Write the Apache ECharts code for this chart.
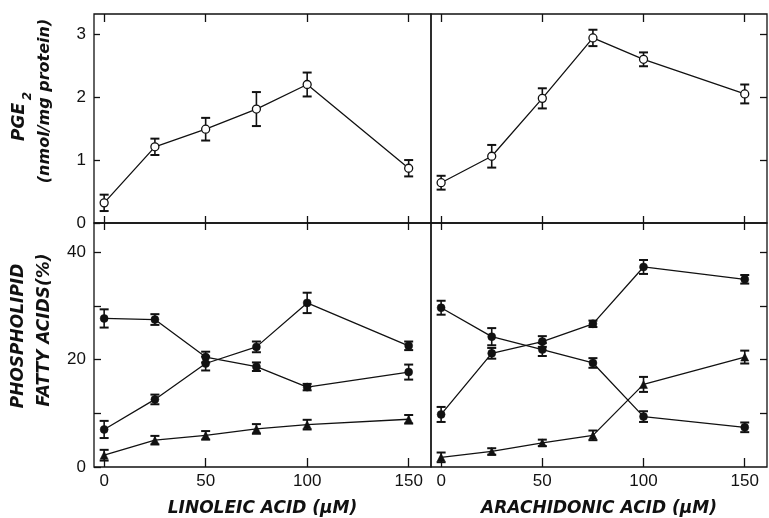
<!DOCTYPE html>
<html>
<head>
<meta charset="utf-8">
<script src="https://cdn.jsdelivr.net/npm/echarts@6/dist/echarts.min.js"></script>
<style>
  html, body { margin: 0; padding: 0; background: #fff; }
  #chart { width: 769px; height: 518px; }
</style>
</head>
<body>
<div id="chart"></div>
<script>
// Fatty acid concentration in the medium (µM)
const doses = [0, 25, 50, 75, 100, 150];
const xTickValues = [0, 50, 100, 150];
const pgeTickValues = [0, 1, 2, 3];
const fattyTickValues = [0, 10, 20, 30, 40];
const fattyLabelValues = [0, 20, 40];

// PGE2 production (nmol/mg protein), mean and error
const pgeLinoleic = [0.32, 1.21, 1.49, 1.81, 2.20, 0.87];
const pgeLinoleicErr = [0.13, 0.13, 0.18, 0.27, 0.19, 0.13];
const pgeArachidonic = [0.64, 1.06, 1.98, 2.94, 2.60, 2.05];
const pgeArachidonicErr = [0.11, 0.18, 0.16, 0.13, 0.11, 0.15];

// Phospholipid fatty acids (%) after linoleic acid supplementation
const linFallingPct = [27.7, 27.5, 20.5, 18.7, 14.9, 17.7];
const linFallingErr = [1.7, 1.0, 1.0, 0.8, 0.6, 1.4];
const linRisingPct = [7.0, 12.6, 19.3, 22.4, 30.6, 22.6];
const linRisingErr = [1.6, 0.9, 1.3, 1.0, 1.9, 0.8];
const linMinorPct = [2.2, 5.0, 5.9, 7.1, 7.9, 8.9];
const linMinorErr = [1.0, 0.8, 0.8, 0.9, 0.9, 0.8];

// Phospholipid fatty acids (%) after arachidonic acid supplementation
const araFallingPct = [29.7, 24.3, 21.9, 19.4, 9.4, 7.4];
const araFallingErr = [1.3, 1.6, 1.2, 0.9, 1.0, 0.9];
const araRisingPct = [9.8, 21.2, 23.4, 26.7, 37.3, 35.0];
const araRisingErr = [1.4, 1.0, 1.0, 0.6, 1.3, 0.8];
const araMinorPct = [1.8, 2.9, 4.5, 5.9, 15.4, 20.5];
const araMinorErr = [0.9, 0.6, 0.6, 0.9, 1.4, 1.2];

const INK = '#111';
const NUM_FONT = '"Liberation Sans", Arial, sans-serif';
const TITLE_FONT = '"DejaVu Sans", sans-serif';

const chart = echarts.init(document.getElementById('chart'), null, { renderer: 'canvas' });

const grids = [
  { left: 94, top: 14, width: 337, height: 209 },
  { left: 431, top: 14, width: 336, height: 209 },
  { left: 94, top: 223, width: 337, height: 244 },
  { left: 431, top: 223, width: 336, height: 244 }
].map(g => Object.assign({ show: true, borderColor: INK, borderWidth: 1.3, backgroundColor: 'transparent' }, g));

const tickStyle = { color: INK, width: 1.3 };

function xAxis(gridIndex, position, tickLen, opts) {
  return Object.assign({
    type: 'value', gridIndex, position, min: -5, max: 161,
    axisLine: { show: false, onZero: false },
    splitLine: { show: false },
    axisTick: { show: true, inside: true, length: tickLen, customValues: xTickValues, lineStyle: tickStyle },
    axisLabel: { show: false }
  }, opts || {});
}

const bottomLabel = {
  show: true, customValues: xTickValues, color: INK, fontSize: 17,
  fontFamily: NUM_FONT, margin: 6
};
const bottomName = {
  nameLocation: 'middle', nameGap: 33,
  nameTextStyle: { color: INK, fontSize: 17, fontStyle: 'italic', fontWeight: 'bold', fontFamily: TITLE_FONT }
};

const xAxes = [
  xAxis(0, 'bottom', 7),
  xAxis(0, 'top', 8),
  xAxis(1, 'bottom', 7),
  xAxis(1, 'top', 8),
  xAxis(2, 'bottom', 9, Object.assign({ name: 'LINOLEIC ACID (μM)', axisLabel: bottomLabel }, bottomName)),
  xAxis(2, 'top', 7),
  xAxis(3, 'bottom', 9, Object.assign({ name: 'ARACHIDONIC ACID (μM)', axisLabel: bottomLabel }, bottomName)),
  xAxis(3, 'top', 7)
];

function yAxis(gridIndex, position, max, ticks, labels, tickLen) {
  return {
    type: 'value', gridIndex, position, min: 0, max,
    axisLine: { show: false, onZero: false },
    splitLine: { show: false },
    axisTick: { show: true, inside: true, length: tickLen, customValues: ticks, lineStyle: tickStyle },
    axisLabel: labels ? {
      show: true, customValues: labels, color: INK, fontSize: 17, fontFamily: NUM_FONT, margin: 8
    } : { show: false }
  };
}

const yAxes = [
  yAxis(0, 'left', 3.32, pgeTickValues, pgeTickValues, 6),
  yAxis(1, 'right', 3.32, [1, 2, 3], null, 7),
  yAxis(2, 'left', 45.5, fattyTickValues, fattyLabelValues, 7),
  yAxis(3, 'right', 45.5, [10, 20, 30, 40], null, 7)
];

function pairs(values) {
  return doses.map((d, i) => [d, values[i]]);
}

function lineSeries(xi, yi, values, symbol, filled, size) {
  return {
    type: 'line', xAxisIndex: xi, yAxisIndex: yi, data: pairs(values),
    symbol, symbolSize: size, showSymbol: true, animation: false, z: 4,
    lineStyle: { color: INK, width: 1.3 },
    itemStyle: { color: filled ? INK : '#fff', borderColor: INK, borderWidth: filled ? 0.5 : 1.3 },
    emphasis: { disabled: true }
  };
}

function drawErrorBar(params, api) {
  const x = api.value(0), y = api.value(1), e = api.value(2);
  const hi = api.coord([x, y + e]);
  const lo = api.coord([x, y - e]);
  const w = 4.5;
  const stem = { stroke: INK, lineWidth: 1.6, fill: null };
  const cap = { stroke: INK, lineWidth: 2, fill: null };
  return {
    type: 'group',
    children: [
      { type: 'line', shape: { x1: hi[0], y1: hi[1], x2: lo[0], y2: lo[1] }, style: stem },
      { type: 'line', shape: { x1: hi[0] - w, y1: hi[1], x2: hi[0] + w, y2: hi[1] }, style: cap },
      { type: 'line', shape: { x1: lo[0] - w, y1: lo[1], x2: lo[0] + w, y2: lo[1] }, style: cap }
    ]
  };
}

function errorSeries(xi, yi, values, errs) {
  return {
    type: 'custom', xAxisIndex: xi, yAxisIndex: yi, renderItem: drawErrorBar,
    data: doses.map((d, i) => [d, values[i], errs[i]]),
    encode: { x: 0, y: 1 }, z: 3, animation: false, clip: false, silent: true
  };
}

const series = [
  errorSeries(0, 0, pgeLinoleic, pgeLinoleicErr),
  lineSeries(0, 0, pgeLinoleic, 'circle', false, 8),
  errorSeries(2, 1, pgeArachidonic, pgeArachidonicErr),
  lineSeries(2, 1, pgeArachidonic, 'circle', false, 8),

  errorSeries(4, 2, linFallingPct, linFallingErr),
  lineSeries(4, 2, linFallingPct, 'circle', true, 8),
  errorSeries(4, 2, linRisingPct, linRisingErr),
  lineSeries(4, 2, linRisingPct, 'circle', true, 8),
  errorSeries(4, 2, linMinorPct, linMinorErr),
  lineSeries(4, 2, linMinorPct, 'triangle', true, 8),

  errorSeries(6, 3, araFallingPct, araFallingErr),
  lineSeries(6, 3, araFallingPct, 'circle', true, 8),
  errorSeries(6, 3, araRisingPct, araRisingErr),
  lineSeries(6, 3, araRisingPct, 'circle', true, 8),
  errorSeries(6, 3, araMinorPct, araMinorErr),
  lineSeries(6, 3, araMinorPct, 'triangle', true, 8)
];

// Rotated (bottom-to-top) axis titles on the left margin
function sideTitle(x, y, text, size) {
  return {
    type: 'text', x, y, rotation: Math.PI / 2, silent: true,
    style: {
      text, fill: INK, fontSize: size, fontStyle: 'italic', fontWeight: 'bold',
      fontFamily: TITLE_FONT, align: 'center', verticalAlign: 'middle'
    }
  };
}

const graphic = [
  sideTitle(20, 122, 'PGE', 17),
  sideTitle(28, 96, '2', 12),
  sideTitle(45, 101, '(nmol/mg protein)', 16),
  sideTitle(19, 336, 'PHOSPHOLIPID', 17),
  sideTitle(45, 330, 'FATTY ACIDS(%)', 17)
];

chart.setOption({
  backgroundColor: '#fff',
  animation: false,
  grid: grids,
  xAxis: xAxes,
  yAxis: yAxes,
  series,
  graphic
});
</script>
</body>
</html>
